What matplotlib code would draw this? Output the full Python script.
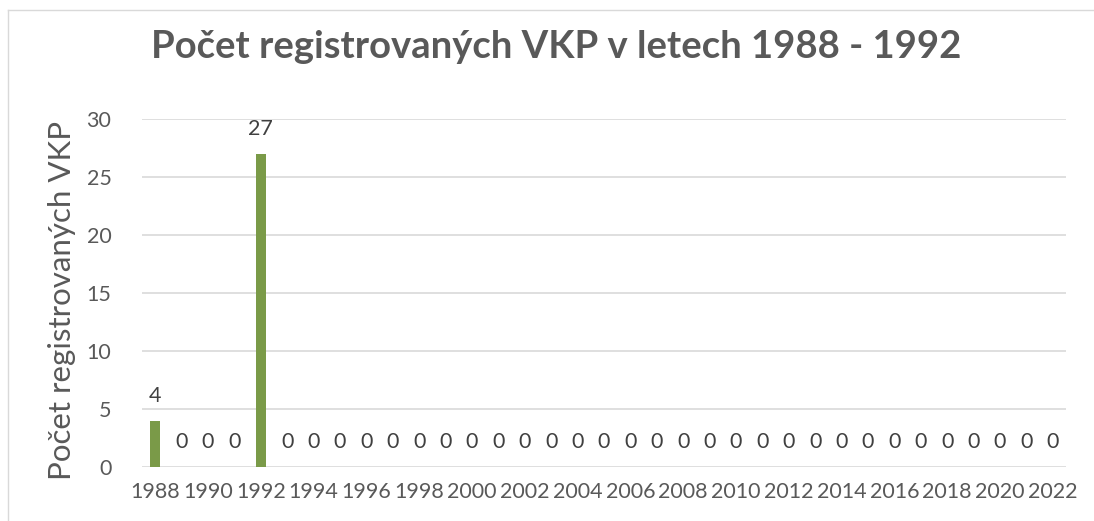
import numpy as np
import matplotlib
matplotlib.use("Agg")
import matplotlib.pyplot as plt
from matplotlib.lines import Line2D

# Data
years = list(range(1988, 2023))
counts = [4, 0, 0, 0, 27] + [0] * 30
title = "Počet registrovaných VKP v letech 1988 - 1992"
ylabel = "Počet registrovaných VKP"

bar_color = "#7A9A48"
text_color = "#595959"
grid_color = "#D9D9D9"

plt.rcParams["font.family"] = ["Lato", "DejaVu Sans"]

W, H = 1094, 521
fig = plt.figure(figsize=(W / 100, H / 100), dpi=100)
ax = fig.add_axes([142 / W, 1 - 467 / H, (1066 - 142) / W, (467 - 119) / H])

x = np.arange(len(years))
ax.bar(x, counts, width=0.37, color=bar_color, zorder=3)

for xi, v in zip(x, counts):
    ax.annotate(str(v), (xi, v), xytext=(0, 25), textcoords="offset pixels",
                ha="center", va="center", fontsize=15.5, color="#404040")

ax.set_xlim(-0.5, len(years) - 0.5)
ax.set_ylim(0, 30)
ax.set_yticks(range(0, 31, 5))
ax.set_xticks(x[::2])
ax.set_xticklabels([str(y) for y in years[::2]])
ax.tick_params(axis="both", length=0, labelsize=15.5, labelcolor=text_color)
ax.tick_params(axis="x", pad=11)
ax.tick_params(axis="y", pad=22)
ax.yaxis.grid(True, color=grid_color, linewidth=1.2, zorder=0)
ax.set_axisbelow(True)
for s in ax.spines.values():
    s.set_visible(False)

fig.text(62 / W, 1 - 300 / H, ylabel, rotation=90, ha="center", va="center",
         fontsize=22.5, color=text_color)
fig.text(556 / W, 1 - 47 / H, title, ha="center", va="center",
         fontsize=27.5, fontweight="bold", color=text_color)

# chart frame
fig.add_artist(Line2D([8 / W, 1], [1 - 10 / H, 1 - 10 / H], transform=fig.transFigure,
                      color=grid_color, linewidth=1))
fig.add_artist(Line2D([8 / W, 8 / W], [0, 1 - 10 / H], transform=fig.transFigure,
                      color=grid_color, linewidth=1))

fig.savefig("out.png", dpi=100)
